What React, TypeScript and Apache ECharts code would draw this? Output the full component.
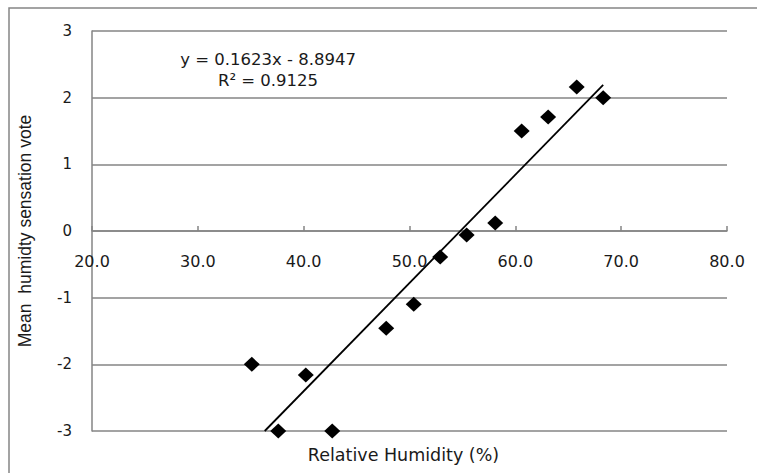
import React, { useEffect, useRef } from "react";
import * as echarts from "echarts";

const humidity: number[] = [35.1, 37.6, 40.2, 42.7, 47.8, 50.4, 52.9, 55.4, 58.1, 60.6, 63.1, 65.8, 68.3];
const sensationVote: number[] = [-2.0, -3.0, -2.16, -3.0, -1.46, -1.1, -0.39, -0.06, 0.12, 1.5, 1.71, 2.16, 2.0];
const trendSlope = 0.1623;
const trendIntercept = -8.8947;
const equationLines: string[] = ["y = 0.1623x - 8.8947", "R² = 0.9125"];
const xTicks = { min: 20, max: 80, step: 10 };
const yTicks = { min: -3, max: 3, step: 1 };

export default function App() {
  const ref = useRef<HTMLDivElement>(null);
  useEffect(() => {
    if (!ref.current) return;
    const chart = echarts.init(ref.current, null, { renderer: "svg" });
    const xMinData = Math.min(...humidity);
    const xMaxData = Math.max(...humidity);
    const xStart = Math.max(xMinData, (yTicks.min - trendIntercept) / trendSlope);
    const trend = [
      [xStart, trendSlope * xStart + trendIntercept],
      [xMaxData, trendSlope * xMaxData + trendIntercept],
    ];
    const points = humidity.map((x, i) => [x, sensationVote[i]]);
    const font = "DejaVu Sans";
    const gridTop = 31;
    const gridBottom = 42;
    const plotH = 473 - gridTop - gridBottom;
    // pixel distance from bottom of plot to the y = 0 line
    const zeroOffset = (plotH * (0 - yTicks.min)) / (yTicks.max - yTicks.min);
    chart.setOption({
      animation: false,
      backgroundColor: "#ffffff",
      grid: { left: 92, right: 30, top: gridTop, bottom: gridBottom },
      xAxis: {
        type: "value",
        min: xTicks.min,
        max: xTicks.max,
        interval: xTicks.step,
        position: "bottom",
        offset: -zeroOffset,
        axisLine: { onZero: false, lineStyle: { color: "#858585", width: 1.5 } },
        axisTick: { show: true, inside: true, length: 5, lineStyle: { color: "#858585", width: 1.5 } },
        axisLabel: {
          margin: 22,
          color: "#1a1a1a",
          fontFamily: font,
          fontSize: 16,
          formatter: (v: number) => v.toFixed(1),
        },
        splitLine: { show: false },
        name: "Relative Humidity (%)",
        nameLocation: "middle",
        nameGap: 215,
        nameTextStyle: { color: "#1a1a1a", fontFamily: font, fontSize: 17.5, padding: [0, 12, 0, 0] },
      },
      yAxis: {
        type: "value",
        min: yTicks.min,
        max: yTicks.max,
        interval: yTicks.step,
        axisLine: { show: true, onZero: false, lineStyle: { color: "#858585", width: 1.5 } },
        axisTick: { show: false },
        axisLabel: { margin: 20, color: "#1a1a1a", fontFamily: font, fontSize: 15 },
        splitLine: { show: true, lineStyle: { color: "#858585", width: 1.5 } },
        name: "Mean  humidty sensation vote",
        nameLocation: "middle",
        nameGap: 58,
        nameTextStyle: { color: "#1a1a1a", fontFamily: "Liberation Sans", fontSize: 17.5 },
      },
      graphic: [
        {
          type: "rect",
          shape: { x: 9, y: 8, width: 900, height: 600 },
          style: { fill: "none", stroke: "#858585", lineWidth: 1.5 },
          silent: true,
        },
        {
          type: "text",
          x: 268,
          y: 51,
          style: {
            text: equationLines[0],
            fill: "#1a1a1a",
            font: `16.5px '${font}'`,
            textAlign: "center",
          },
        },
        {
          type: "text",
          x: 268,
          y: 72,
          style: {
            text: equationLines[1],
            fill: "#1a1a1a",
            font: `16.5px '${font}'`,
            textAlign: "center",
          },
        },
      ],
      series: [
        {
          type: "scatter",
          data: points,
          symbol: "diamond",
          symbolSize: [16, 15],
          itemStyle: { color: "#000000", opacity: 1 },
          z: 3,
        },
        {
          type: "line",
          data: trend,
          showSymbol: false,
          symbol: "none",
          lineStyle: { color: "#000000", width: 1.8 },
          z: 4,
        },
      ],
    });
    return () => chart.dispose();
  }, []);
  return <div ref={ref} style={{ position: "fixed", left: 0, top: 0, width: 757, height: 473 }} />;
}
